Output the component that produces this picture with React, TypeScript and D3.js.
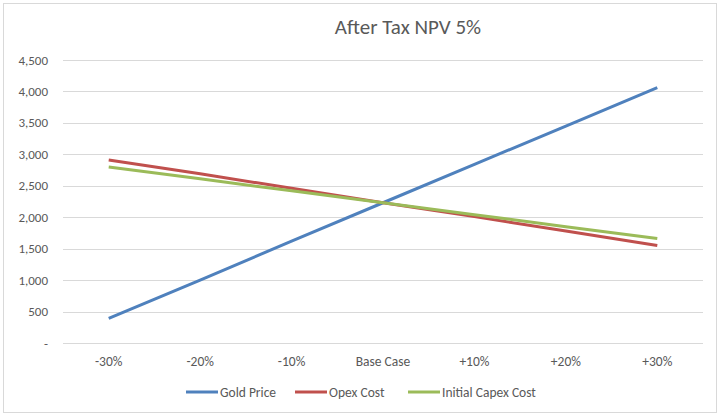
import * as d3 from "d3";
import { useEffect, useRef } from "react";

const categories = ["-30%", "-20%", "-10%", "Base Case", "+10%", "+20%", "+30%"];
const goldPrice = [390, 1000, 1620, 2230, 2840, 3450, 4060];
const opexCost = [2910, 2690, 2460, 2230, 2010, 1780, 1550];
const capexCost = [2800, 2610, 2420, 2230, 2040, 1850, 1660];
const yTicks = [0, 500, 1000, 1500, 2000, 2500, 3000, 3500, 4000, 4500];
const seriesNames = ["Gold Price", "Opex Cost", "Initial Capex Cost"];

export default function App() {
  const ref = useRef<SVGSVGElement | null>(null);

  useEffect(() => {
    document.body.style.margin = "0";
    const width = 723;
    const height = 418;
    const margin = { top: 60, right: 20, bottom: 75, left: 63 };
    const font = "Calibri, Carlito, Lato, sans-serif";
    const textColor = "#595959";

    const svg = d3.select(ref.current).attr("width", width).attr("height", height);
    svg.selectAll("*").remove();

    svg
      .append("rect")
      .attr("x", 3.5)
      .attr("y", 3.5)
      .attr("width", 713)
      .attr("height", 409)
      .attr("fill", "#fff")
      .attr("stroke", "#d9d9d9");

    const x = d3
      .scaleBand()
      .domain(categories)
      .range([margin.left, width - margin.right]);

    const y = d3
      .scaleLinear()
      .domain([0, 4500])
      .range([height - margin.bottom, margin.top]);

    // Title
    svg
      .append("text")
      .attr("x", 408)
      .attr("y", 34)
      .attr("text-anchor", "middle")
      .attr("font-family", font)
      .attr("font-size", 21)
      .attr("fill", textColor)
      .text("After Tax NPV 5%");

    // Gridlines and y labels
    const fmt = d3.format(",");
    yTicks.forEach((t) => {
      svg
        .append("line")
        .attr("x1", margin.left)
        .attr("x2", width - margin.right)
        .attr("y1", Math.round(y(t)) + 0.5)
        .attr("y2", Math.round(y(t)) + 0.5)
        .attr("stroke", "#d9d9d9");
      svg
        .append("text")
        .attr("x", 48)
        .attr("y", y(t) + 4.5)
        .attr("text-anchor", "end")
        .attr("font-family", font)
        .attr("font-size", 13)
        .attr("fill", textColor)
        .text(t === 0 ? "-" : fmt(t));
    });

    // X labels
    categories.forEach((c) => {
      svg
        .append("text")
        .attr("x", x(c)! + x.bandwidth() / 2)
        .attr("y", 366)
        .attr("text-anchor", "middle")
        .attr("font-family", font)
        .attr("font-size", 13.5)
        .attr("fill", textColor)
        .text(c);
    });

    const colors = ["#4f81bd", "#c0504d", "#9bbb59"];
    const data = [goldPrice, opexCost, capexCost];
    const line = d3
      .line<number>()
      .x((_, i) => x(categories[i])! + x.bandwidth() / 2)
      .y((d) => y(d));

    // draw gold first, then opex, then capex on top
    data.forEach((vals, i) => {
      svg
        .append("path")
        .attr("d", line(vals))
        .attr("fill", "none")
        .attr("stroke", colors[i])
        .attr("stroke-width", 3);
    });

    // Legend
    const legendX = [186, 295, 408];
    seriesNames.forEach((name, i) => {
      svg
        .append("line")
        .attr("x1", legendX[i])
        .attr("x2", legendX[i] + 32)
        .attr("y1", 392)
        .attr("y2", 392)
        .attr("stroke", colors[i])
        .attr("stroke-width", 3);
      svg
        .append("text")
        .attr("x", legendX[i] + 34)
        .attr("y", 396.5)
        .attr("font-family", font)
        .attr("font-size", 13.5)
        .attr("fill", textColor)
        .text(name);
    });
  }, []);

  return <svg ref={ref} style={{ display: "block" }} />;
}
